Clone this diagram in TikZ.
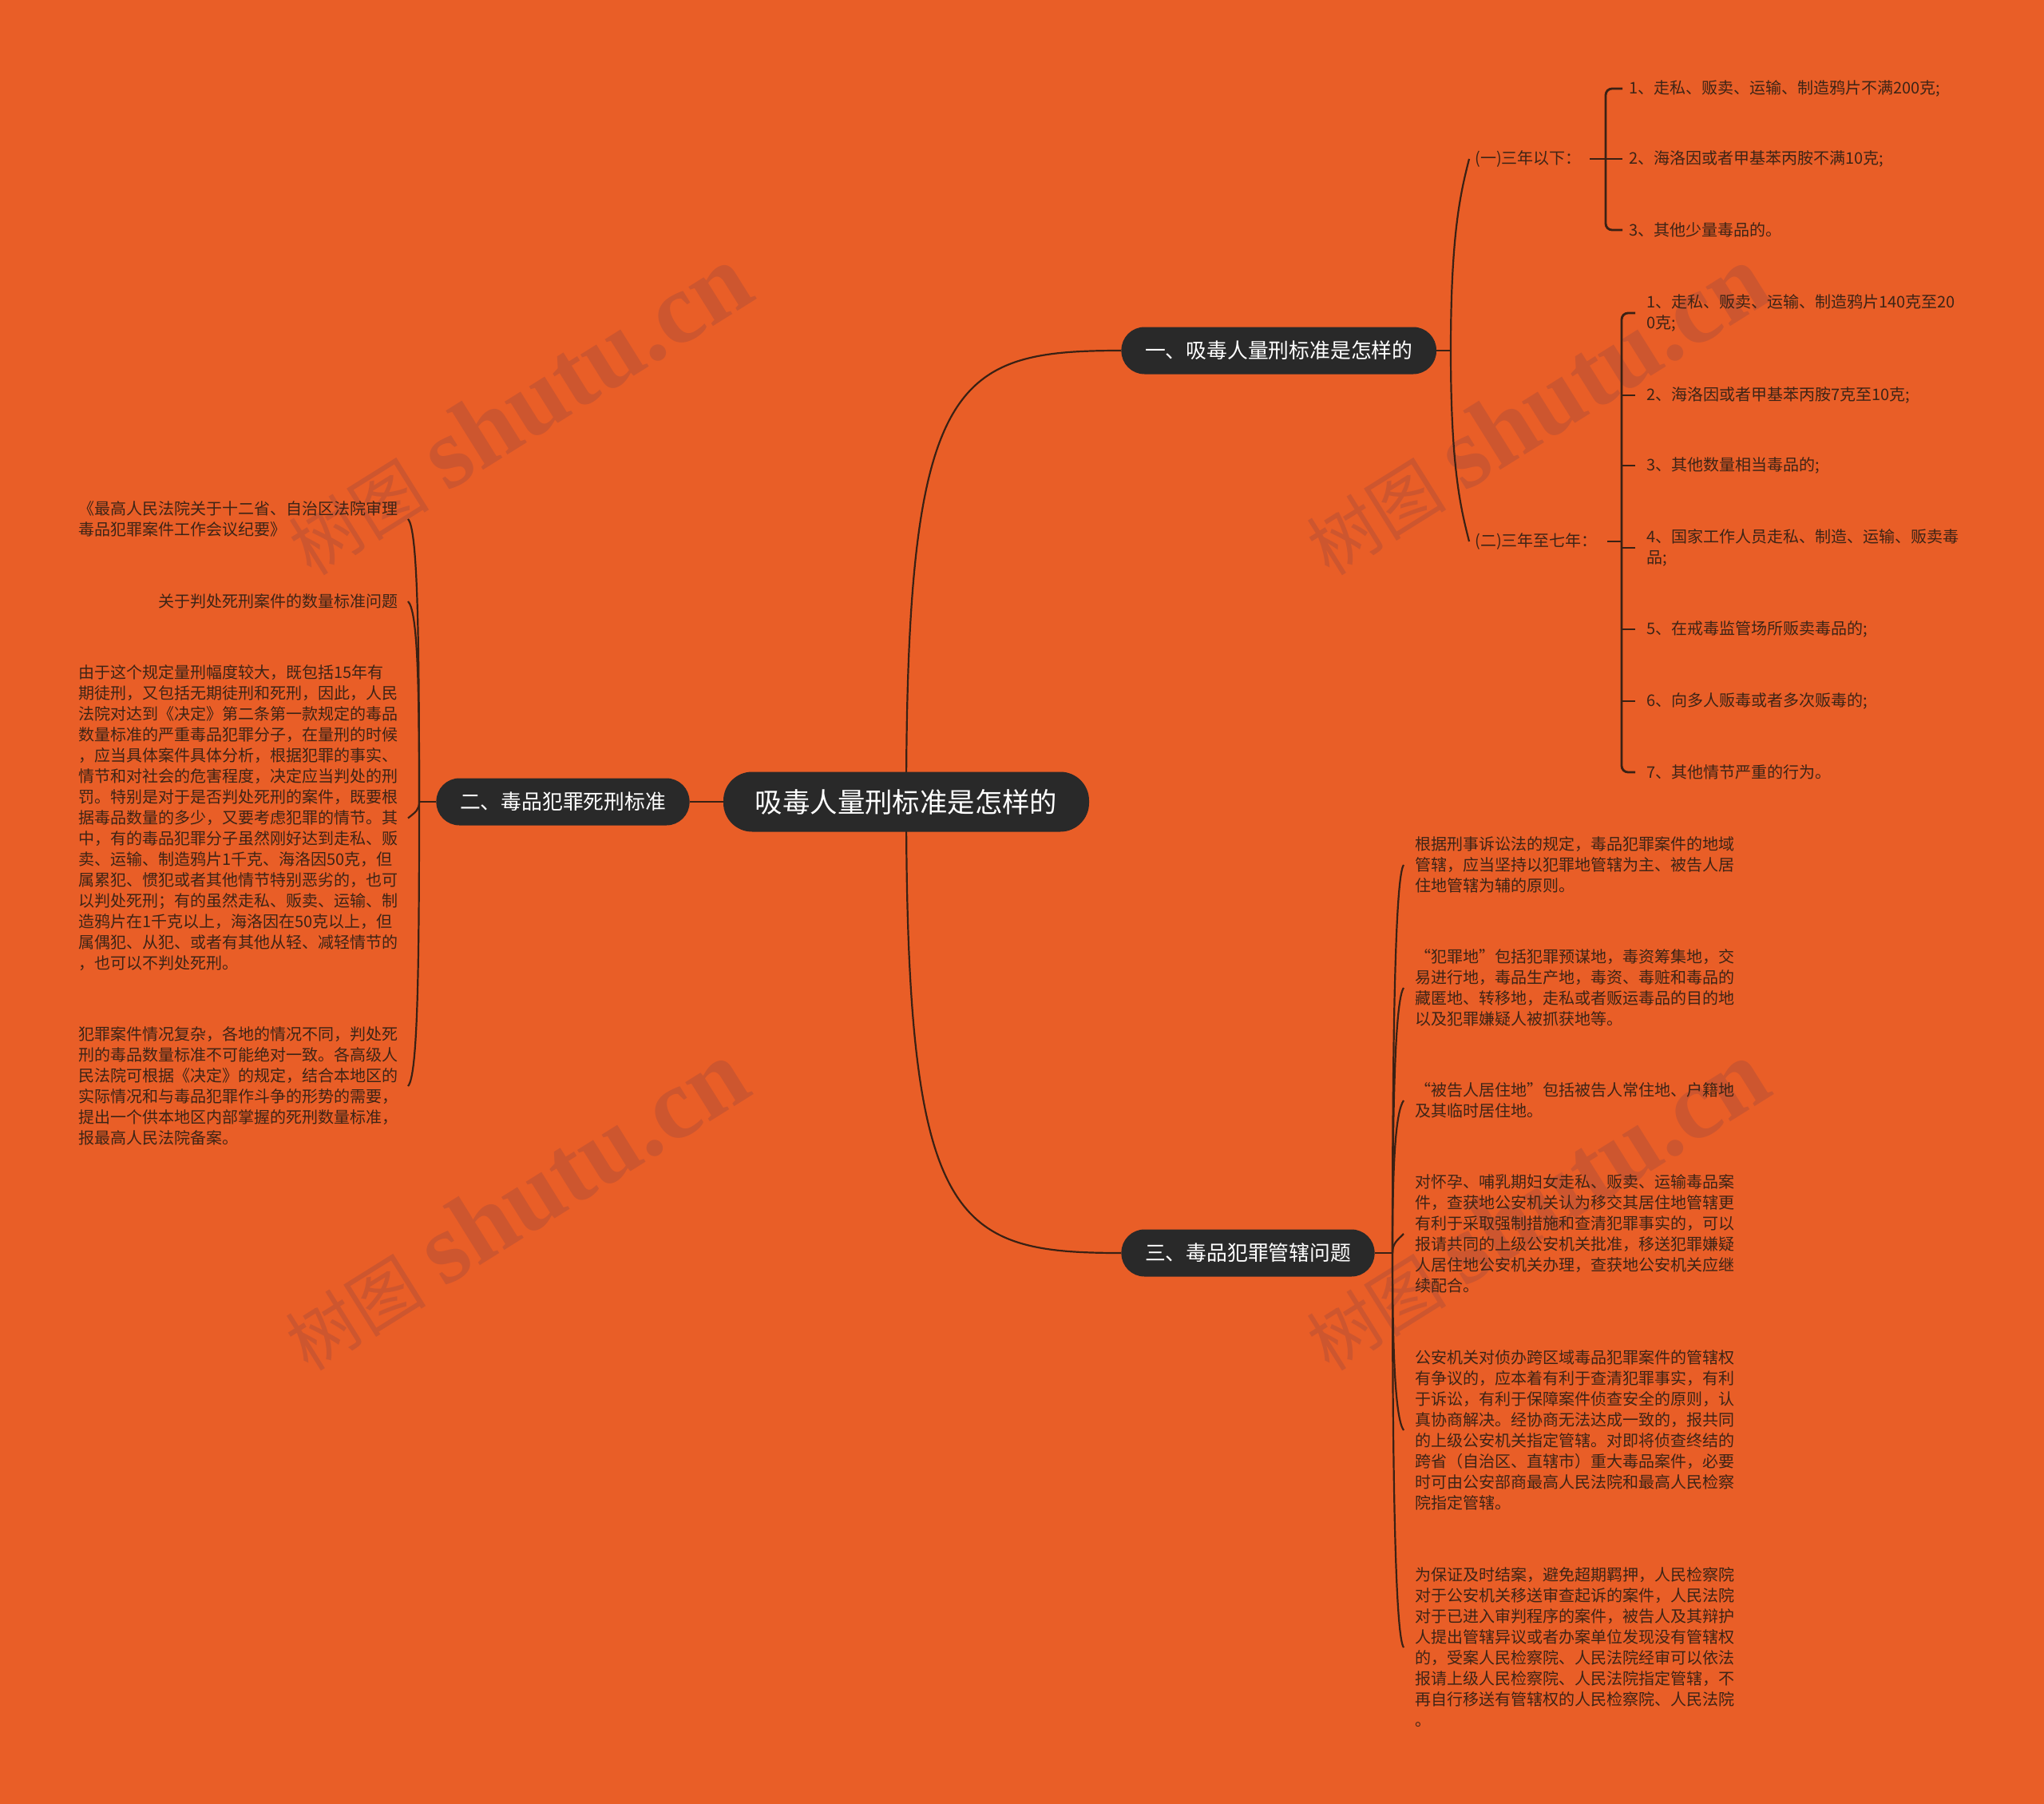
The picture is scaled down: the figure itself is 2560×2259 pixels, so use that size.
\documentclass[tikz,border=0pt]{standalone}
\usepackage{fontspec}
\setmainfont{Noto Sans CJK SC}
\newfontfamily\cjkfw{Noto Sans CJK SC}[RawFeature=+fwid]
\newfontfamily\wmlatin{Liberation Serif}
\usetikzlibrary{backgrounds,calc}

\definecolor{bgorange}{HTML}{E95E27}
\definecolor{nodedark}{HTML}{292929}
\definecolor{linebrown}{HTML}{3A2114}
\definecolor{txtbrown}{HTML}{3D2416}
\definecolor{wmorange}{HTML}{CD562F}

\newcommand{\wmtext}{{\fontsize{44pt}{46pt}\selectfont 树图}\hspace{12pt}{\wmlatin\bfseries\fontsize{63pt}{65pt}\selectfont shutu.cn}}
\newcommand{\oq}{{\cjkfw “}}
\newcommand{\cq}{{\cjkfw ”}}

\begin{document}
\begin{tikzpicture}[
  x=0.5pt, y=-0.5pt,
  root/.style={fill=nodedark, text=white, rounded corners=18pt, inner xsep=0pt,
               minimum height=37.5pt, minimum width=229pt,
               font=\fontsize{17.2pt}{20pt}\selectfont},
  topic/.style={fill=nodedark, text=white, rounded corners=14.5pt, inner xsep=14.8pt,
                minimum height=29.5pt, font=\fontsize{12.9pt}{15pt}\selectfont},
  leaf/.style={inner sep=0pt, align=left, text=txtbrown,
               font=\fontsize{10pt}{13pt}\selectfont},
  link/.style={draw=linebrown, line width=1.1pt},
  brace/.style={draw=linebrown, line width=1.4pt, rounded corners=4pt},
  wmark/.style={text=wmorange, rotate=32, inner sep=0pt},
]
\useasboundingbox (0,0) rectangle (2560,2259);

% ---------- centre and the three topics ----------
\node[root] (root) at (1135,1004) {吸毒人量刑标准是怎样的};
\node[topic, anchor=west] (r1) at (1404,439) {一、吸毒人量刑标准是怎样的};
\node[topic, anchor=east] (l1) at (864,1004) {二、毒品犯罪死刑标准};
\node[topic, anchor=west] (r3) at (1404,1569) {三、毒品犯罪管辖问题};

% ---------- topic one: sentencing bands ----------
\node[leaf, anchor=west] (yi) at (1847,199) {(一)三年以下：};
\node[leaf, anchor=west] (a1) at (2040,111) {1、走私、贩卖、运输、制造鸦片不满200克;};
\node[leaf, anchor=west] (a2) at (2040,199) {2、海洛因或者甲基苯丙胺不满10克;};
\node[leaf, anchor=west] (a3) at (2040,288) {3、其他少量毒品的。};

\node[leaf, anchor=west] (er) at (1847,678) {(二)三年至七年：};
\node[leaf, anchor=west] (b1) at (2062,392) {1、走私、贩卖、运输、制造鸦片140克至20\\0克;};
\node[leaf, anchor=west] (b2) at (2062,495) {2、海洛因或者甲基苯丙胺7克至10克;};
\node[leaf, anchor=west] (b3) at (2062,583) {3、其他数量相当毒品的;};
\node[leaf, anchor=west] (b4) at (2062,686) {4、国家工作人员走私、制造、运输、贩卖毒\\品;};
\node[leaf, anchor=west] (b5) at (2062,788) {5、在戒毒监管场所贩卖毒品的;};
\node[leaf, anchor=west] (b6) at (2062,878) {6、向多人贩毒或者多次贩毒的;};
\node[leaf, anchor=west] (b7) at (2062,967) {7、其他情节严重的行为。};

% ---------- topic two: death penalty standard ----------
\node[leaf, anchor=east] (c1) at (499,650)
  {《最高人民法院关于十二省、自治区法院审理\\毒品犯罪案件工作会议纪要》};
\node[leaf, anchor=east] (c2) at (499,753) {关于判处死刑案件的数量标准问题};
\node[leaf, anchor=east] (c3) at (499,1024.5)
  {由于这个规定量刑幅度较大，既包括15年有\\
   期徒刑，又包括无期徒刑和死刑，因此，人民\\
   法院对达到《决定》第二条第一款规定的毒品\\
   数量标准的严重毒品犯罪分子，在量刑的时候\\
   ，应当具体案件具体分析，根据犯罪的事实、\\
   情节和对社会的危害程度，决定应当判处的刑\\
   罚。特别是对于是否判处死刑的案件，既要根\\
   据毒品数量的多少，又要考虑犯罪的情节。其\\
   中，有的毒品犯罪分子虽然刚好达到走私、贩\\
   卖、运输、制造鸦片1千克、海洛因50克，但\\
   属累犯、惯犯或者其他情节特别恶劣的，也可\\
   以判处死刑；有的虽然走私、贩卖、运输、制\\
   造鸦片在1千克以上，海洛因在50克以上，但\\
   属偶犯、从犯、或者有其他从轻、减轻情节的\\
   ，也可以不判处死刑。};
\node[leaf, anchor=east] (c4) at (499,1360)
  {犯罪案件情况复杂，各地的情况不同，判处死\\
   刑的毒品数量标准不可能绝对一致。各高级人\\
   民法院可根据《决定》的规定，结合本地区的\\
   实际情况和与毒品犯罪作斗争的形势的需要，\\
   提出一个供本地区内部掌握的死刑数量标准，\\
   报最高人民法院备案。};

% ---------- topic three: jurisdiction ----------
\node[leaf, anchor=west] (d1) at (1772,1083)
  {根据刑事诉讼法的规定，毒品犯罪案件的地域\\
   管辖，应当坚持以犯罪地管辖为主、被告人居\\
   住地管辖为辅的原则。};
\node[leaf, anchor=west] (d2) at (1772,1237)
  {\oq 犯罪地\cq 包括犯罪预谋地，毒资筹集地，交\\
   易进行地，毒品生产地，毒资、毒赃和毒品的\\
   藏匿地、转移地，走私或者贩运毒品的目的地\\
   以及犯罪嫌疑人被抓获地等。};
\node[leaf, anchor=west] (d3) at (1772,1378)
  {\oq 被告人居住地\cq 包括被告人常住地、户籍地\\
   及其临时居住地。};
\node[leaf, anchor=west] (d4) at (1772,1545)
  {对怀孕、哺乳期妇女走私、贩卖、运输毒品案\\
   件，查获地公安机关认为移交其居住地管辖更\\
   有利于采取强制措施和查清犯罪事实的，可以\\
   报请共同的上级公安机关批准，移送犯罪嫌疑\\
   人居住地公安机关办理，查获地公安机关应继\\
   续配合。};
\node[leaf, anchor=west] (d5) at (1772,1791)
  {公安机关对侦办跨区域毒品犯罪案件的管辖权\\
   有争议的，应本着有利于查清犯罪事实，有利\\
   于诉讼，有利于保障案件侦查安全的原则，认\\
   真协商解决。经协商无法达成一致的，报共同\\
   的上级公安机关指定管辖。对即将侦查终结的\\
   跨省（自治区、直辖市）重大毒品案件，必要\\
   时可由公安部商最高人民法院和最高人民检察\\
   院指定管辖。};
\node[leaf, anchor=west] (d6) at (1772,2063)
  {为保证及时结案，避免超期羁押，人民检察院\\
   对于公安机关移送审查起诉的案件，人民法院\\
   对于已进入审判程序的案件，被告人及其辩护\\
   人提出管辖异议或者办案单位发现没有管辖权\\
   的，受案人民检察院、人民法院经审可以依法\\
   报请上级人民检察院、人民法院指定管辖，不\\
   再自行移送有管辖权的人民检察院、人民法院\\
   。};

% ---------- junctions ----------
\coordinate (r1J) at (1817,439);
\coordinate (yiS) at (2011,199);
\coordinate (erS) at (2031,678);
\coordinate (l1J) at (525,1004);
\coordinate (r3J) at (1744,1569);

% ---------- background, watermarks and connectors ----------
\begin{scope}[on background layer]
  \fill[bgorange] (0,0) rectangle (2560,2259);
  \node[wmark] (wm1) at (649,514) {\wmtext};
  \node[wmark] (wm2) at (645,1510) {\wmtext};
  \node[wmark] (wm3) at (1923,514) {\wmtext};
  \node[wmark] (wm4) at (1923,1510) {\wmtext};

  % centre to topics
  \draw[link] (l1.east) -- (root.west);
  \draw[link] (root.center) .. controls +(0,-530) and +(-210,0) .. (r1.west);
  \draw[link] (root.center) .. controls +(0,530) and +(-210,0) .. (r3.west);

  % topic one
  \draw[link] (r1.east) -- (r1J);
  \draw[link] (r1J) .. controls +(0,-150) and +(-10,40) .. ([xshift=-3.5pt]yi.west);
  \draw[link] (r1J) .. controls +(0,150) and +(-10,-40) .. ([xshift=-3.5pt]er.west);

  \draw[brace] ([xshift=-4pt]a1.west) -| (yiS) |- ([xshift=-4pt]a3.west);
  \draw[brace] ([xshift=5pt]yi.east) -- (yiS) -- ([xshift=-4pt]a2.west);

  \draw[brace] ([xshift=-7pt]b1.west) -| (erS) |- ([xshift=-7pt]b7.west);
  \draw[brace] ([xshift=6pt]er.east) -- (erS);
  \draw[brace] (erS |- b2.west) -- ([xshift=-7pt]b2.west);
  \draw[brace] (erS |- b3.west) -- ([xshift=-7pt]b3.west);
  \draw[brace] (erS |- b4.west) -- ([xshift=-7pt]b4.west);
  \draw[brace] (erS |- b5.west) -- ([xshift=-7pt]b5.west);
  \draw[brace] (erS |- b6.west) -- ([xshift=-7pt]b6.west);

  % topic two
  \draw[link] (l1.west) -- (l1J);
  \draw[link] (l1J) .. controls +(0,-212) and +(12,12) .. ([xshift=6pt]c1.east);
  \draw[link] (l1J) .. controls +(0,-150) and +(12,12) .. ([xshift=6pt]c2.east);
  \draw[link] (l1J) .. controls +(0,10) and +(10,-8) .. ([xshift=6pt]c3.east);
  \draw[link] (l1J) .. controls +(0,213) and +(12,-12) .. ([xshift=6pt]c4.east);

  % topic three
  \draw[link] (r3.east) -- (r3J);
  \draw[link] (r3J) .. controls +(0,-290) and +(-10,14) .. ([xshift=-7pt]d1.west);
  \draw[link] (r3J) .. controls +(0,-200) and +(-10,14) .. ([xshift=-7pt]d2.west);
  \draw[link] (r3J) .. controls +(0,-115) and +(-10,14) .. ([xshift=-7pt]d3.west);
  \draw[link] (r3J) .. controls +(0,-12) and +(-8,8) .. ([xshift=-7pt]d4.west);
  \draw[link] (r3J) .. controls +(0,133) and +(-10,-14) .. ([xshift=-7pt]d5.west);
  \draw[link] (r3J) .. controls +(0,296) and +(-10,-14) .. ([xshift=-7pt]d6.west);
\end{scope}

\end{tikzpicture}
\end{document}
